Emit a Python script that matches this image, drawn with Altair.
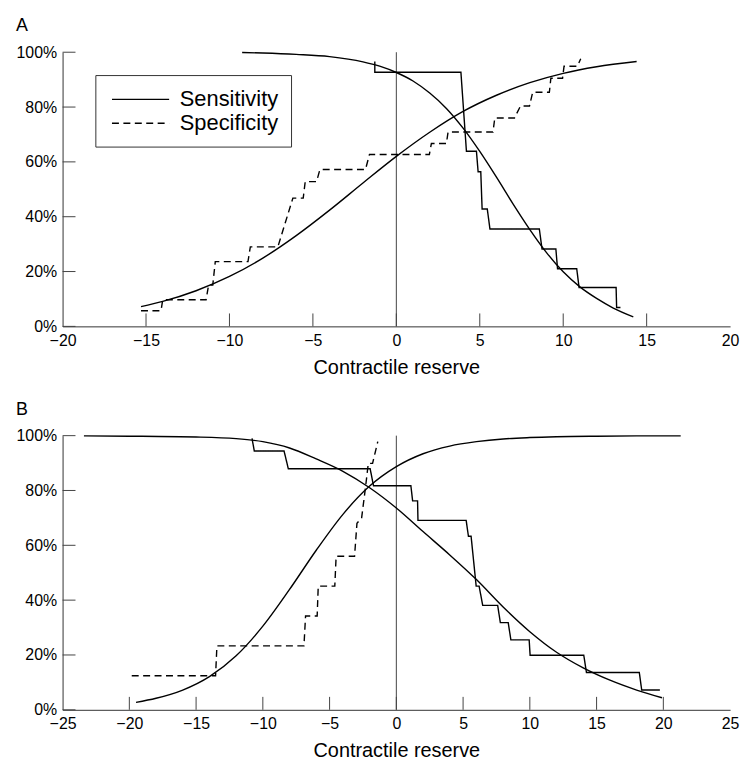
import altair as alt
import pandas as pd

FONT = "Liberation Sans"
W, H = 672, 276

# ---------------- Panel A data ----------------
a_fit_sens_x = [-9.24, -8, -6, -4, -2, -1, 0, 1, 2, 3, 4, 5, 6, 7, 8, 9, 10, 11, 12, 13, 14.2]
a_fit_sens_y = [99.9, 99.7, 99.2, 98.4, 96.5, 94.9, 92.6, 89.5, 85.1, 79.5, 72.3, 63.8, 54.4, 44.6,
                35.3, 26.9, 19.9, 14.4, 10.2, 6.7, 3.5]
a_fit_spec_x = [-15.3, -14, -12, -10, -8, -6, -4, -2, 0, 2, 4, 6, 8, 10, 12, 14.4]
a_fit_spec_y = [7.2, 9.1, 13.0, 18.2, 24.9, 33.1, 42.4, 52.3, 62.0, 70.8, 78.4, 84.3, 88.9, 92.3, 94.7, 96.6]

a_step_sens_x = [-1.29, -1.29, 3.87, 4.2, 4.8, 4.9, 5.06, 5.14, 5.45, 5.61, 8.57, 8.73, 9.56, 9.66,
                 10.81, 10.95, 13.17, 13.2, 13.43]
a_step_sens_y = [96.6, 92.7, 92.7, 63.9, 63.9, 56.4, 56.4, 42.8, 42.8, 35.5, 35.5, 28.2, 28.2, 21.0,
                 21.0, 14.2, 14.2, 6.9, 6.9]
a_step_spec_x = [-15.3, -14.1, -14.0, -11.4, -11.25, -11.0, -10.85, -8.89, -8.75, -7.1, -6.2, -5.58,
                 -5.46, -4.78, -4.58, -1.85, -1.61, 1.98, 2.1, 3.0, 3.1, 5.79, 5.9, 7.08, 7.44, 7.98,
                 8.17, 9.17, 9.26, 9.96, 10.05, 10.85, 11.05]
a_step_spec_y = [5.7, 5.7, 9.7, 9.7, 15.1, 15.1, 23.6, 23.6, 29.0, 29.0, 46.8, 46.8, 52.8, 52.8, 57.2,
                 57.2, 62.7, 62.7, 66.7, 66.7, 70.9, 70.9, 76.0, 76.0, 80.4, 80.4, 85.4, 85.4, 90.5,
                 90.5, 94.9, 94.9, 97.6]

# ---------------- Panel B data ----------------
b_fit_sens_x = [-23.4, -20, -15, -12, -10, -8, -6, -4, -2, 0, 2, 4, 6, 8, 10, 12, 14, 16, 18, 19.9]
b_fit_sens_y = [99.9, 99.8, 99.5, 98.9, 97.8, 95.5, 91.5, 87.0, 81.0, 73.6, 65.0, 56.5, 47.5, 37.5,
                28.5, 21.0, 15.3, 10.8, 7.2, 4.4]
b_fit_spec_x = [-19.5, -18, -16, -14, -12, -10, -8, -6, -4, -2, 0, 2, 4, 6, 8, 10, 12, 15, 18, 21.3]
b_fit_spec_y = [2.7, 4.2, 7.2, 12.1, 19.7, 30.5, 43.9, 58.2, 71.3, 81.6, 88.7, 93.4, 96.2, 97.8, 98.8,
                99.3, 99.6, 99.8, 99.9, 99.9]

b_step_sens_x = [-10.81, -10.64, -8.41, -8.09, -1.96, -1.71, 1.09, 1.22, 1.59, 1.62, 5.23, 5.4, 5.6,
                 5.98, 6.2, 6.47, 7.59, 7.79, 8.38, 8.58, 9.95, 10.02, 14.04, 14.24, 18.2, 18.38, 19.74]
b_step_sens_y = [99.0, 94.4, 94.4, 87.9, 87.9, 81.7, 81.7, 76.2, 76.2, 69.1, 69.1, 63.3, 63.3, 45.1,
                 45.1, 38.1, 38.1, 31.8, 31.8, 25.5, 25.5, 19.9, 19.9, 13.6, 13.6, 7.2, 7.2]
b_step_spec_x = [-19.82, -13.54, -13.44, -6.92, -6.8, -5.93, -5.85, -4.61, -4.51, -3.13, -2.95, -2.6,
                 -2.3, -2.1, -1.78, -1.39]
b_step_spec_y = [12.4, 12.4, 23.3, 23.3, 34.2, 34.2, 45.1, 45.1, 56.0, 56.0, 68.0, 70.0, 81.5, 89.9,
                 89.9, 97.8]

a_xticks_labels = [-20, -15, -10, -5, 0, 5, 10, 15, 20]
a_inner_xticks = [-15, -10, -5, 0, 5, 10, 15]
b_xticks_labels = [-25, -20, -15, -10, -5, 0, 5, 10, 15, 20, 25]
b_inner_xticks = [-20, -15, -10, -5, 0, 5, 10, 15, 20]
y_ticks = [0, 20, 40, 60, 80, 100]
series_names = ["Sensitivity", "Specificity"]


def make_df(sx, sy, px, py):
    rows = []
    for i, (x, y) in enumerate(zip(sx, sy)):
        rows.append({"x": x, "y": y, "series": series_names[0], "i": i})
    for i, (x, y) in enumerate(zip(px, py)):
        rows.append({"x": x, "y": y, "series": series_names[1], "i": i})
    return pd.DataFrame(rows)


def panel(letter, xdom, xlabels, inner, fit_df, step_df, show_legend):
    xs = alt.Scale(domain=xdom, nice=False, zero=False)
    ys = alt.Scale(domain=[0, 100], nice=False)
    xaxis = alt.Axis(values=xlabels, title="Contractile reserve", ticks=False, grid=False,
                     labelFlush=False, labelOverlap=False, format="d")
    yaxis = alt.Axis(values=y_ticks, title=None, ticks=False, grid=False, labelFlush=False,
                     labelOverlap=False, labelExpr="datum.value + '%'")
    X = alt.X("x:Q", scale=xs, axis=xaxis)
    Y = alt.Y("y:Q", scale=ys, axis=yaxis)

    zero = alt.Chart(pd.DataFrame({"x": [0], "y": [0], "y2": [100]})).mark_rule(
        color="#444", strokeWidth=1).encode(x=X, y=Y, y2="y2:Q")

    xt = alt.Chart(pd.DataFrame({"x": inner})).mark_rule(color="#444", strokeWidth=1).encode(
        x=X, y=alt.value(H), y2=alt.value(H - 13))
    yt = alt.Chart(pd.DataFrame({"y": y_ticks})).mark_rule(color="#444", strokeWidth=1).encode(
        y=Y, x=alt.value(0), x2=alt.value(13))

    fit = alt.Chart(fit_df).mark_line(color="black", strokeWidth=1.4, interpolate="monotone").encode(
        x=X, y=Y, detail="series:N", order="i:Q")

    if show_legend:
        leg = alt.Legend(title=None, orient="none", legendX=33, legendY=23,
                         symbolType="M-2.5,0H2.5", symbolSize=530, symbolStrokeWidth=1.4,
                         symbolStrokeColor="black", symbolOffset=21,
                         labelFontSize=22, labelFont=FONT, labelColor="black", labelOffset=27,
                         strokeColor="#333", padding=12, rowPadding=-1, fillColor="white")
    else:
        leg = None
    step = alt.Chart(step_df).mark_line(color="black", strokeWidth=1.4).encode(
        x=X, y=Y, order="i:Q",
        strokeDash=alt.StrokeDash("series:N",
                                  scale=alt.Scale(domain=series_names, range=[[1, 0], [7, 4.5]]),
                                  legend=leg))

    return alt.layer(zero, xt, yt, fit, step).properties(
        width=W, height=H,
        title=alt.TitleParams(letter, anchor="start", fontSize=18, fontWeight="normal", font=FONT,
                              color="black", offset=9))


pa = panel("A", [-20, 20], a_xticks_labels, a_inner_xticks,
           make_df(a_fit_sens_x, a_fit_sens_y, a_fit_spec_x, a_fit_spec_y),
           make_df(a_step_sens_x, a_step_sens_y, a_step_spec_x, a_step_spec_y), True)
pb = panel("B", [-25, 25], b_xticks_labels, b_inner_xticks,
           make_df(b_fit_sens_x, b_fit_sens_y, b_fit_spec_x, b_fit_spec_y),
           make_df(b_step_sens_x, b_step_sens_y, b_step_spec_x, b_step_spec_y), False)

chart = alt.vconcat(pa, pb, spacing=24).resolve_scale(
    x="independent", strokeDash="independent").resolve_legend(strokeDash="independent").properties(
    padding={"left": 16, "top": 15, "right": 5, "bottom": 2}, background="white"
).configure_view(stroke=None).configure_axis(
    domainColor="#333", domainWidth=1, labelFont=FONT, labelFontSize=16, labelColor="black",
    labelPadding=6, titleFont=FONT, titleFontSize=20, titleFontWeight="normal", titleColor="black",
    titlePadding=9
)

chart.save("out.html", embed_options={"renderer": "svg", "actions": False})
